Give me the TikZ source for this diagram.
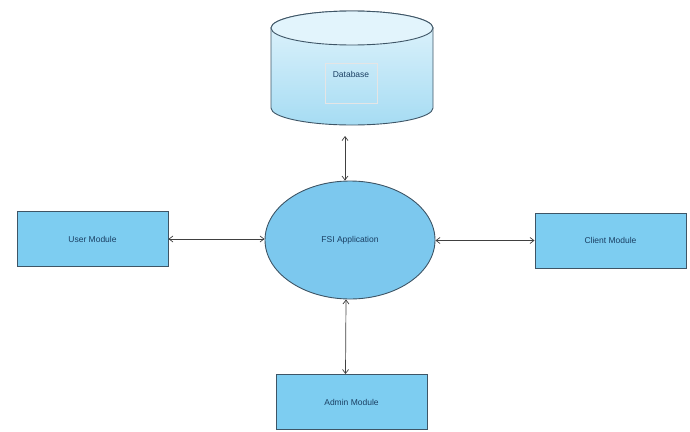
\documentclass[tikz,border=0pt]{standalone}
\usepackage{fontspec}
\setmainfont{Liberation Sans}
\usetikzlibrary{shapes.geometric,arrows.meta,calc}
\definecolor{boxfill}{HTML}{7DCDF1}
\definecolor{ellfill}{HTML}{7CC8EE}
\definecolor{edge}{HTML}{3E5566}
\definecolor{txt}{HTML}{1A3F63}
\definecolor{cyltop}{HTML}{E2F4FC}
\definecolor{cylbot}{HTML}{A6DCF3}
\begin{document}
\begin{tikzpicture}[x=1pt,y=1pt,
  lbl/.style={font=\fontsize{8.5}{10}\selectfont,text=txt},
  module/.style={draw=edge,line width=0.9pt,fill=boxfill,minimum width=151pt,minimum height=55pt,inner sep=0pt,lbl},
  link/.style={draw=black!75,line width=0.7pt,{Straight Barb[length=4pt,width=6pt]}-{Straight Barb[length=4pt,width=6pt]}}]
\useasboundingbox (0,0) rectangle (690,-431);
% database cylinder
\path[top color=cyltop,bottom color=cylbot,draw=edge,line width=0.9pt]
  (271,-28) -- (271,-108) arc[start angle=180,end angle=360,x radius=81,y radius=17]
  -- (433,-28) arc[start angle=0,end angle=180,x radius=81,y radius=17] -- cycle;
\draw[edge,line width=0.9pt,fill=cyltop] (352,-28) ellipse[x radius=81,y radius=17];
\draw[black!10,line width=0.5pt] (325,-63) rectangle (377,-103);
\node[lbl] (db) at (351,-74) {Database};
\coordinate (dbout) at (345,-136);
% central application
\node[ellipse,draw=edge,line width=0.9pt,fill=ellfill,minimum width=170pt,minimum height=118pt,inner sep=0pt,lbl] (app) at (350,-240) {FSI Application};
% modules
\node[module] (user) at (92.5,-239) {User Module};
\node[module] (client) at (610.5,-240.5) {Client Module};
\node[module] (admin) at (351.5,-402) {Admin Module};
% connectors
\draw[link] (dbout) -- (dbout |- app.north);
\draw[link] (user.east) -- (user.east -| app.west);
\draw[link] (app.east |- client.west) -- (client.west);
\draw[link] ($(app.south)+(-4,0)$) -- ($(admin.north)+(-6,0)$);
\end{tikzpicture}
\end{document}
